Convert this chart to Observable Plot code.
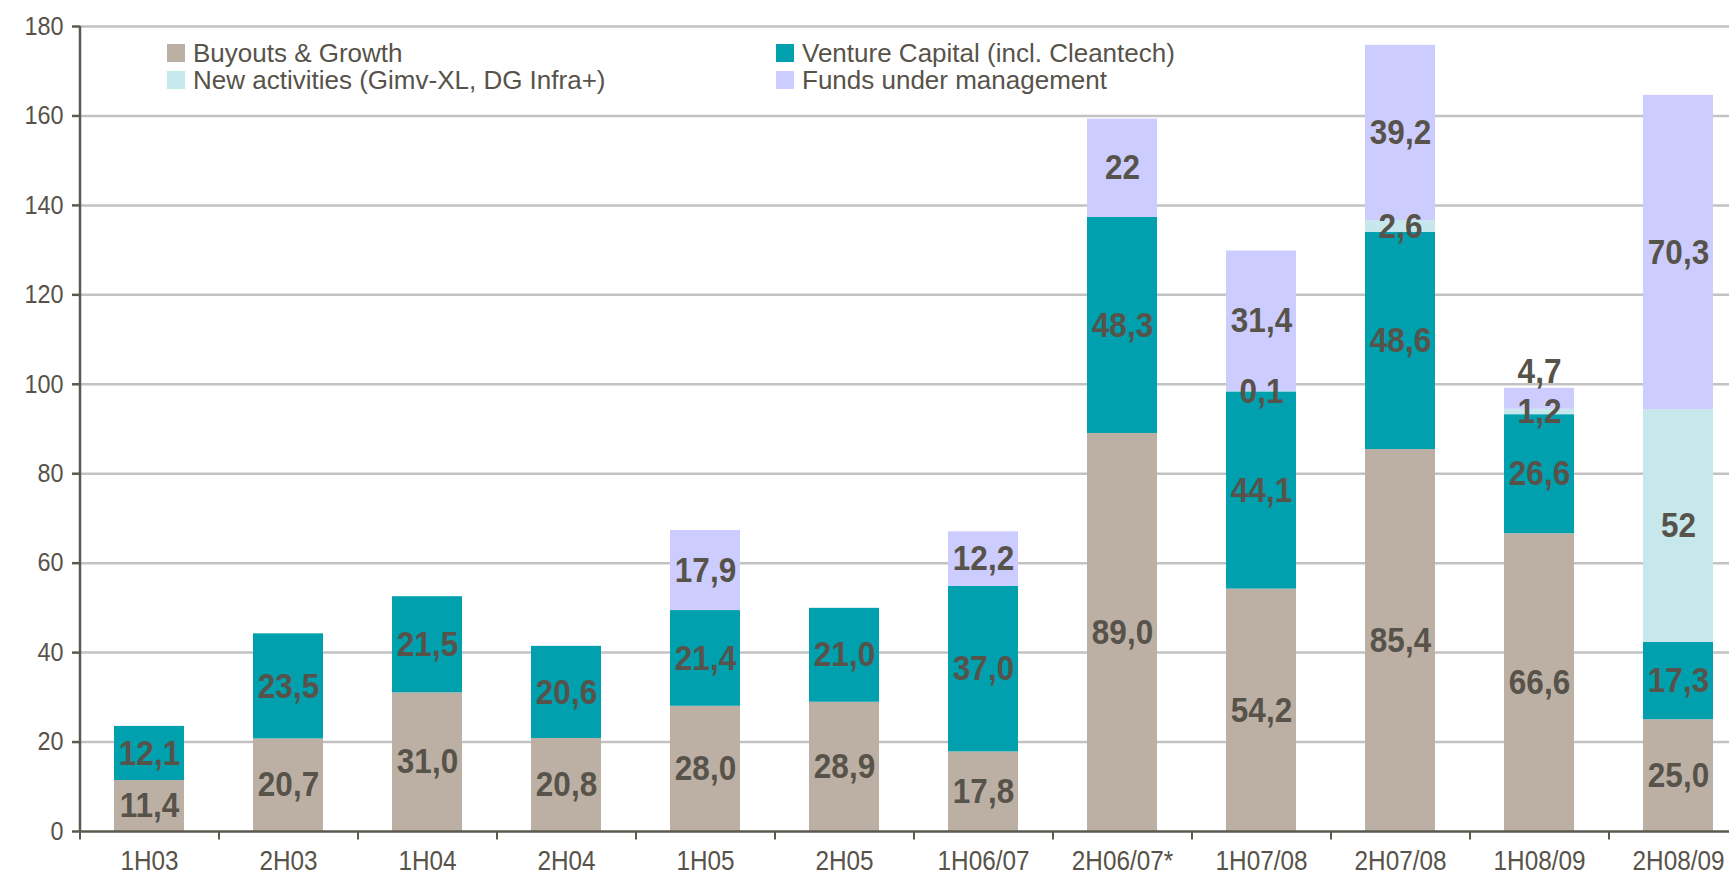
<!DOCTYPE html>
<html>
<head>
<meta charset="utf-8">
<script src="https://cdn.jsdelivr.net/npm/d3@7"></script>
<script src="https://cdn.jsdelivr.net/npm/@observablehq/plot@0.6"></script>
<style>
  html, body { margin: 0; padding: 0; background: #fff; overflow: hidden; }
  #wrap { position: relative; width: 1729px; height: 885px; }
  #legend { position: absolute; left: 0; top: 0; font-family: "Liberation Sans", Arial, sans-serif; font-size: 26px; color: #57534a; }
  .item { position: absolute; display: flex; align-items: center; white-space: nowrap; line-height: 1; height: 26px; }
  .sw { width: 18px; height: 18px; margin-right: 8px; flex: none; }
</style>
</head>
<body>
<div id="wrap">
  <div id="chart"></div>
  <div id="legend"></div>
</div>
<script>
const categories = ["1H03","2H03","1H04","2H04","1H05","2H05","1H06/07","2H06/07*","1H07/08","2H07/08","1H08/09","2H08/09"];
const seriesNames = ["Buyouts & Growth","Venture Capital (incl. Cleantech)","New activities (Gimv-XL, DG Infra+)","Funds under management"];
const seriesColors = ["#bcb0a5","#00a0ae","#c6e7eb","#ccccff"];

const buyouts = [11.4, 20.7, 31.0, 20.8, 28.0, 28.9, 17.8, 89.0, 54.2, 85.4, 66.6, 25.0];
const venture = [12.1, 23.5, 21.5, 20.6, 21.4, 21.0, 37.0, 48.3, 44.1, 48.6, 26.6, 17.3];
const newAct  = [0, 0, 0, 0, 0, 0, 0, 0, 0.1, 2.6, 1.2, 52];
const funds   = [0, 0, 0, 0, 17.9, 0, 12.2, 22, 31.4, 39.2, 4.7, 70.3];

const buyoutsLabels = ["11,4","20,7","31,0","20,8","28,0","28,9","17,8","89,0","54,2","85,4","66,6","25,0"];
const ventureLabels = ["12,1","23,5","21,5","20,6","21,4","21,0","37,0","48,3","44,1","48,6","26,6","17,3"];
const newActLabels  = ["","","","","","","","","0,1","2,6","1,2","52"];
const fundsLabels   = ["","","","","17,9","","12,2","22","31,4","39,2","4,7","70,3"];

const yTicks = [0,20,40,60,80,100,120,140,160,180];

const seriesValues = [buyouts, venture, newAct, funds];
const seriesLabels = [buyoutsLabels, ventureLabels, newActLabels, fundsLabels];

const rows = [];
categories.forEach((c, i) => {
  seriesNames.forEach((s, k) => {
    rows.push({cat: c, series: s, value: seriesValues[k][i], label: seriesLabels[k][i]});
  });
});

// label lifted above the bar in the original (small top segment)
const isLifted = d => d.cat === "1H08/09" && d.series === "Funds under management";

const W = 1729, H = 885;
const mLeft = 80, mTop = 26, mBottom = 54;
const step = 139;
const textColor = "#57534a";
const axisColor = "#5b5a4f";
const font = "'Liberation Sans', Arial, sans-serif";

const chart = Plot.plot({
  width: W,
  height: H,
  marginLeft: mLeft,
  marginRight: 0,
  marginTop: mTop,
  marginBottom: mBottom,
  style: {fontFamily: font, fontSize: "26px", color: textColor, background: "#fff"},
  x: {domain: categories, range: [mLeft, mLeft + step * categories.length], paddingInner: 0.496, paddingOuter: 0.248, label: null},
  y: {domain: [0, 180], label: null},
  color: {domain: seriesNames, range: seriesColors},
  marks: [
    Plot.ruleY(yTicks.filter(t => t > 0), {stroke: "#c2c2c2", strokeWidth: 2.5}),
    Plot.barY(rows, Plot.stackY({x: "cat", y: "value", fill: "series"})),
    Plot.ruleY([0], {stroke: axisColor, strokeWidth: 2.5}),
    Plot.ruleX([categories[0]], {x: d => d, y1: 0, y2: 180, dx: -step / 2, stroke: axisColor, strokeWidth: 2.5}),
    Plot.ruleX(categories, {x: d => d, y1: 0, y2: -1.9, dx: -step / 2, stroke: axisColor, strokeWidth: 2}),
    Plot.axisY({ticks: yTicks, tickSize: 8, tickPadding: 9, stroke: axisColor, strokeWidth: 2.5, fill: textColor, fontSize: 26, label: null}),
    Plot.axisX({tickSize: 0, tickPadding: 19, fill: textColor, fontSize: 27, label: null}),
    Plot.text(rows, Plot.stackY({x: "cat", y: "value", text: d => isLifted(d) ? "" : d.label,
      fill: textColor, fontSize: 35, fontWeight: "bold"})),
    Plot.text(rows, Plot.stackY({x: "cat", y: "value", text: d => isLifted(d) ? d.label : "",
      fill: textColor, fontSize: 35, fontWeight: "bold", dy: -27}))
  ]
});
document.getElementById("chart").appendChild(chart);

// condense the text horizontally like the original narrow typeface
function condense(sel, f) {
  chart.querySelectorAll(sel).forEach(t => {
    if (!t.textContent) return;
    const len = t.getComputedTextLength();
    if (len > 0) {
      t.setAttribute("textLength", (len * f).toFixed(1));
      t.setAttribute("lengthAdjust", "spacingAndGlyphs");
    }
  });
}
condense('g[font-weight="bold"] text', 0.9);
condense('g[aria-label="x-axis tick label"] text', 0.9);
condense('g[aria-label="y-axis tick label"] text', 0.9);

// legend
const legendPos = [
  {left: 167, top: 53}, {left: 776, top: 53},
  {left: 167, top: 80}, {left: 776, top: 80}
];
const legend = document.getElementById("legend");
seriesNames.forEach((s, k) => {
  const it = document.createElement("div");
  it.className = "item";
  it.style.left = legendPos[k].left + "px";
  it.style.top = (legendPos[k].top - 13) + "px";
  const sw = document.createElement("span");
  sw.className = "sw";
  sw.style.background = seriesColors[k];
  const tx = document.createElement("span");
  tx.textContent = s;
  it.appendChild(sw); it.appendChild(tx);
  legend.appendChild(it);
});
</script>
</body>
</html>
